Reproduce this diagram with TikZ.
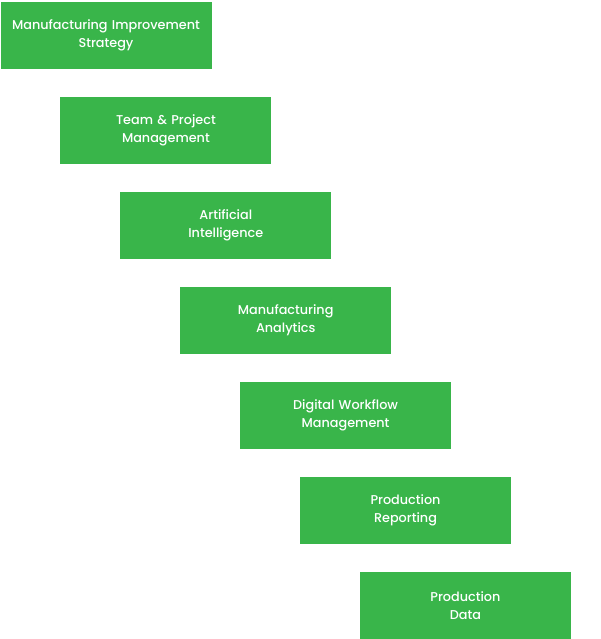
\documentclass[tikz,border=0pt]{standalone}
\usepackage{fontspec}
\setmainfont{Poppins}
\newfontfamily\stepfont{Poppins Medium}
\usepackage{xcolor}
\usetikzlibrary{positioning}
\definecolor{stepgreen}{HTML}{39B54A}
\tikzset{
  stepbox/.style={rectangle, draw=none, fill=stepgreen, text=white,
                  minimum width=211pt, minimum height=67pt, text width=205pt,
                  align=center, inner sep=0pt, outer sep=0pt,
                  font=\stepfont\fontsize{12.8pt}{18pt}\selectfont},
}

\begin{document}
\begin{tikzpicture}[x=1pt, y=1pt, node distance=28pt]
  \useasboundingbox (0,0) rectangle (600,-639);
  \node[stepbox, anchor=north west] (strat) at (0.5,-2) {Manufacturing Improvement\\Strategy};
  \node[stepbox, below=of strat, xshift=59.9pt] (team) {Team \& Project\\Management};
  \node[stepbox, below=of team, xshift=59.9pt]  (ai)   {Artificial\\Intelligence};
  \node[stepbox, below=of ai, xshift=59.9pt]    (anly) {Manufacturing\\Analytics};
  \node[stepbox, below=of anly, xshift=59.9pt]  (dwm)  {Digital Workflow\\Management};
  \node[stepbox, below=of dwm, xshift=59.9pt]   (rep)  {Production\\Reporting};
  \node[stepbox, below=of rep, xshift=59.9pt]   (data) {Production\\Data};
\end{tikzpicture}
\end{document}
